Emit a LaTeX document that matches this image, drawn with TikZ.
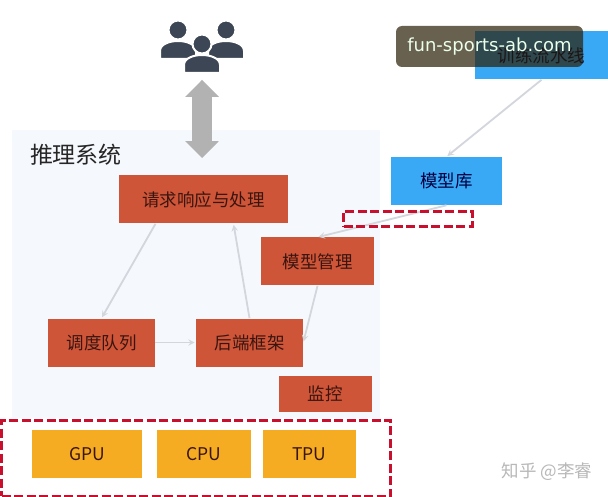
\documentclass[tikz,border=0pt]{standalone}
\usepackage{fontspec}
\setmainfont{Noto Sans CJK SC}
\newfontfamily\markfont{DejaVu Sans}
\usetikzlibrary{arrows,shapes.arrows}
\definecolor{panelblue}{HTML}{F5F8FC}
\definecolor{redbox}{HTML}{CF5538}
\definecolor{bluebox}{HTML}{3AA9F5}
\definecolor{orangebox}{HTML}{F5AC22}
\definecolor{dashred}{HTML}{C8102E}
\definecolor{linegrey}{HTML}{D3D6DC}
\definecolor{usergrey}{HTML}{3D4654}
\definecolor{boxtext}{HTML}{3A1510}
\tikzset{
	pics/person/.style={code={
		\filldraw[usergrey, draw=white, line width=2pt] (0,0) circle (9.5);
		\filldraw[usergrey, draw=white, line width=2pt] (-18,29) -- (-18,21) .. controls (-18,14) and (-8,11) .. (0,11) .. controls (8,11) and (18,14) .. (18,21) -- (18,29) -- cycle;
	}}
}
\begin{document}
\begin{tikzpicture}[->,>=stealth, x=1pt, y=-1pt, semithick,
	every node/.style={inner sep=0pt, font=\fontsize{17.5}{20}\selectfont},
	block/.style={minimum width=#1, minimum height=48pt, text=boxtext},
	redblock/.style={block=#1, fill=redbox},
	blueblock/.style={block=#1, fill=bluebox, text=black!75!blue},
	chipblock/.style={block=#1, fill=orangebox},
	dashbox/.style={draw=dashred, dash pattern=on 9pt off 3.5pt, line width=3pt},
	flow/.style={draw=linegrey, line width=1.8pt, shorten >=1pt}
	]
\useasboundingbox (0,0) rectangle (608,497);
\fill[white] (0,0) rectangle (608,497);
% panel
\node[fill=panelblue, minimum width=368pt, minimum height=288pt] (panel) at (196,274) {};
\node[font=\fontsize{23}{26}\selectfont, text=black!85] (title) at (76,155) {推理系统};
% users
\pic at (178,30) {person};
\pic at (226,30) {person};
\pic at (202,44) {person};
\node[double arrow, rotate=90, fill=black!30, minimum height=78pt, inner sep=9.5pt, double arrow head extend=7pt] (updown) at (202,119) {};
% boxes
\node[redblock=169pt] (request) at (203.5,199.5) {请求响应与处理};
\node[redblock=113pt] (manager) at (317.5,261.5) {模型管理};
\node[redblock=107pt] (queue) at (101.5,342.5) {调度队列};
\node[redblock=107pt] (backend) at (249.5,342.5) {后端框架};
\node[redblock=93pt, minimum height=36pt] (monitor) at (325,394) {监控};
\node[blueblock=133pt] (train) at (541.5,55.5) {训练流水线};
\node[blueblock=111pt] (store) at (446.5,181) {模型库};
% chips
\node[chipblock=110pt] (gpu) at (87,454) {GPU};
\node[chipblock=94pt] (cpu) at (204,454) {CPU};
\node[chipblock=93pt] (tpu) at (309.5,454) {TPU};
\node[dashbox, minimum width=389pt, minimum height=76pt] (chips) at (196,458) {};
% links
\draw[flow] (train.south) -- (store.north);
\draw[flow] (store.south) -- (manager.north);
\draw[flow] (manager.south) -- (backend.east);
\draw[flow] (backend.north) -- ([xshift=30pt]request.south);
\draw[flow] ([xshift=-48pt]request.south) -- (queue.north);
\draw[flow] (queue.east) -- (backend.west);
\node[dashbox, minimum width=129pt, minimum height=15pt] (selected) at (408,219) {};
% marks
\node[fill={rgb,255:red,41;green,31;blue,6}, fill opacity=0.7, text opacity=1, text=green!8, rounded corners=6pt, minimum width=187pt, minimum height=41pt, font=\markfont\fontsize{18}{20}\selectfont] (mark) at (489.5,46.5) {fun-sports-ab.com};
\node[text=black!28, font=\fontsize{17.5}{20}\selectfont] (zhihu) at (547,472) {知乎 @李睿};
\end{tikzpicture}
\end{document}
